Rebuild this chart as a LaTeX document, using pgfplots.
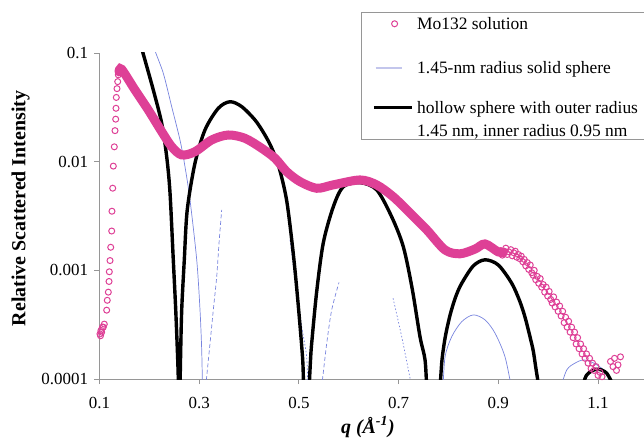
\documentclass[border=0pt]{standalone}
\usepackage{fontspec}
\setmainfont{Liberation Serif}
\usepackage{pgfplots}
\pgfplotsset{compat=1.18}

\definecolor{mopink}{RGB}{222,64,150}
\definecolor{sphblue}{RGB}{120,132,222}
\definecolor{sphlight}{RGB}{195,198,236}
\definecolor{axgray}{RGB}{150,150,150}

\begin{document}
\begin{tikzpicture}
\path[use as bounding box] (0,0) rectangle (644bp,441bp);
\begin{axis}[
    at={(99.5bp,62bp)}, anchor=south west,
    scale only axis, width=544.5bp, height=326bp,
    xmin=0.1, xmax=1.1922, ymin=1e-4, ymax=0.1,
    ymode=log,
    axis x line*=bottom, axis y line*=left,
    axis line style={axgray, line width=0.9bp, -},
    tick style={axgray, line width=0.9bp},
    tick align=outside, major tick length=5bp,
    yminorticks=false,
    xtick={0.1,0.3,0.5,0.7,0.9,1.1},
    xticklabels={0.1,0.3,0.5,0.7,0.9,1.1},
    ytick={1e-4,1e-3,1e-2,1e-1},
    yticklabels={0.0001,0.001,0.01,0.1},
    /pgf/number format/assume math mode=true,
    tick label style={font=\fontsize{17}{20}\selectfont},
    xticklabel style={yshift=-10bp},
    yticklabel style={xshift=-3bp},
    xlabel={\bfseries\itshape q (Å\textsuperscript{-1})},
    ylabel={\bfseries Relative Scattered Intensity},
    every axis x label/.style={at={(axis description cs:0.493,-0.147)}, anchor=center,
        font=\fontsize{20}{23}\selectfont},
    every axis y label/.style={at={(axis description cs:-0.145,0.523)}, anchor=center, rotate=90,
        font=\fontsize{20}{23}\selectfont},
    legend cell align=left,
    legend style={at={(0.48,1.126)}, anchor=north west,
        draw=axgray, line width=0.9bp, fill=white,
        inner xsep=11bp, inner ysep=2bp, row sep=0bp,
        font=\fontsize{17.5}{21}\selectfont,
        cells={anchor=base west},
        /tikz/row 1/.style={nodes={inner sep=0bp, text height=15bp, text depth=30.3bp}},
        /tikz/row 2/.style={nodes={inner sep=0bp, text height=14bp, text depth=25.7bp}},
        /tikz/row 3/.style={nodes={inner sep=0bp, text height=14bp, text depth=8.7bp}},
        /tikz/row 4/.style={nodes={inner sep=0bp, text height=14bp, text depth=1.5bp}},
        /tikz/every odd column/.style={column sep=4bp}},
]

% legend
\addlegendimage{legend image code/.code={\draw[mopink,line width=1bp] (20.7bp,5.6bp) circle (3bp);}}
\addlegendentry{Mo132 solution}
\addlegendimage{legend image code/.code={\draw[sphlight,line width=1.3bp] (1.7bp,5.6bp)--(28.3bp,5.6bp);}}
\addlegendentry{1.45-nm radius solid sphere}
\addlegendimage{legend image code/.code={\draw[black,line width=3.2bp] (0bp,5.6bp)--(37.7bp,5.6bp);}}
\addlegendentry{hollow sphere with outer radius\hspace*{60bp}}
\addlegendimage{empty legend}
\addlegendentry{1.45 nm, inner radius 0.95 nm}

% 1.45-nm solid sphere (only the visible pieces)
\addplot[sphblue, line width=0.7bp, smooth, forget plot] coordinates {
(0.2050,0.150) (0.2099,0.110) (0.2280,0.065) (0.2448,0.0321) (0.2615,0.0158)
(0.2715,0.0090) (0.2815,0.00445) (0.2950,0.00125) (0.3016,0.000433)
(0.3050,0.000185) (0.3066,0.00008)};
\addplot[sphblue, line width=0.7bp, smooth, dash pattern=on 4bp off 2.5bp, forget plot] coordinates {
(0.3130,0.000085) (0.3217,0.000213) (0.3283,0.000433) (0.3351,0.000875)
(0.3397,0.00177) (0.3451,0.0036)};
\addplot[sphblue, line width=0.7bp, smooth, dash pattern=on 1.5bp off 2bp, forget plot] coordinates {
(0.4822,0.0019) (0.4956,0.000615) (0.5056,0.000303) (0.5156,0.00016) (0.5177,0.00008)};
\addplot[sphblue, line width=0.7bp, smooth, dash pattern=on 4bp off 2.5bp, forget plot] coordinates {
(0.5457,0.000085) (0.5558,0.000213) (0.5658,0.000433) (0.5804,0.000774)};
\addplot[sphblue, line width=0.7bp, smooth, dash pattern=on 1.5bp off 2bp, forget plot] coordinates {
(0.6888,0.000553) (0.7062,0.000245) (0.7263,0.000085)};
\addplot[sphblue, line width=0.7bp, smooth, forget plot] coordinates {
(0.7890,0.00008) (0.7931,0.00016) (0.8065,0.000245) (0.8266,0.000337)
(0.8499,0.000389) (0.8733,0.00035) (0.8934,0.000264) (0.9134,0.00016) (0.9269,0.00008)};
\addplot[sphblue, line width=0.7bp, smooth, forget plot] coordinates {
(1.0237,0.00008) (1.0372,0.000121) (1.0538,0.00014) (1.0719,0.00015)
(1.0940,0.000138) (1.1174,0.000113) (1.1260,0.00008)};

% hollow sphere, outer 1.45 nm, inner 0.95 nm
\addplot[black, line width=3.4bp, smooth, forget plot] coordinates {
(0.1750,0.160) (0.1847,0.110) (0.2079,0.0457) (0.2248,0.02255) (0.2348,0.0111)
(0.2414,0.0052) (0.2480,0.00125) (0.2529,0.000433) (0.2569,0.00015) (0.2587,0.00008)};
\addplot[black, line width=3.4bp, smooth, forget plot] coordinates {
(0.2615,0.00008) (0.2625,0.00015) (0.2649,0.000433) (0.2701,0.00125) (0.2760,0.0036)
(0.2916,0.00973) (0.3116,0.0196) (0.3383,0.0310) (0.3618,0.0356) (0.3853,0.0321)
(0.4119,0.0242) (0.4300,0.0182) (0.4450,0.0135) (0.4600,0.0089) (0.4755,0.00437)
(0.4888,0.00141) (0.4988,0.00047) (0.5076,0.00015) (0.5092,0.00008)};
\addplot[black, line width=3.4bp, smooth, forget plot] coordinates {
(0.5203,0.00008) (0.5233,0.00015) (0.5257,0.000215) (0.5357,0.00064) (0.5489,0.00179)
(0.5690,0.00385) (0.5891,0.00589) (0.6226,0.00641) (0.6561,0.0055) (0.6862,0.00310)
(0.7094,0.00165) (0.7269,0.00069) (0.7429,0.000245) (0.7530,0.00015) (0.7564,0.00008)};
\addplot[black, line width=3.4bp, smooth, forget plot] coordinates {
(0.7830,0.00008) (0.7870,0.00015) (0.7940,0.00025) (0.8040,0.00040) (0.8150,0.00058)
(0.8266,0.00076) (0.8499,0.00110) (0.8733,0.00125) (0.9000,0.00112) (0.9269,0.00076)
(0.9430,0.00052) (0.9536,0.00037) (0.9640,0.00024) (0.9702,0.00018) (0.9760,0.00012)
(0.9822,0.00008)};
\addplot[black, line width=3.4bp, smooth, forget plot] coordinates {
(1.0673,0.00008) (1.0773,0.000109) (1.0974,0.000123) (1.1174,0.000113) (1.1340,0.00008)};

% Mo132 solution: dense part of the data (circles overlap into a band)
\addplot[mopink, line width=9bp, smooth, line cap=round, forget plot] coordinates {
(0.1391,0.0670) (0.1445,0.0708) (0.1712,0.0457) (0.1979,0.0299) (0.2248,0.0189)
(0.2448,0.01374) (0.2649,0.01153) (0.2916,0.01236) (0.3251,0.01585) (0.3584,0.0176)
(0.3919,0.0164) (0.4254,0.01328) (0.4521,0.01074) (0.4755,0.00809) (0.5022,0.00655)
(0.5357,0.00569) (0.5684,0.00611) (0.6226,0.00679) (0.6561,0.00611) (0.6888,0.00477)
(0.7229,0.00337) (0.7564,0.00236) (0.7931,0.00154) (0.8232,0.00142) (0.8533,0.00157)
(0.8733,0.00175) (0.8994,0.00148) (0.9100,0.00146)};

% Mo132 solution: individual points
\addplot[only marks, mark=o, mark size=3bp, mopink, mark options={line width=1bp}, forget plot] coordinates {
(0.1010,0.00026) (0.1020,0.00025) (0.1030,0.00028) (0.1044,0.00027) (0.1060,0.00030)
(0.1076,0.00030) (0.1096,0.00032) (0.1144,0.00043) (0.1156,0.00053) (0.1177,0.00063)
(0.1191,0.00079) (0.1197,0.00097) (0.1211,0.00123) (0.1225,0.00163) (0.1245,0.0023)
(0.1250,0.0035) (0.1265,0.0057) (0.1277,0.0091) (0.1297,0.0137) (0.1311,0.0193)
(0.1325,0.0246) (0.1331,0.031) (0.1337,0.039) (0.1351,0.047) (0.1365,0.0545)
(0.1377,0.063) (0.1391,0.067)
(0.905,0.00152) (0.908,0.00138) (0.912,0.00150) (0.915,0.00160) (0.918,0.00140)
(0.921,0.00148) (0.925,0.00155) (0.928,0.00136) (0.931,0.00145) (0.934,0.00150)
(0.937,0.00132) (0.940,0.00140) (0.943,0.00128) (0.946,0.00135) (0.949,0.00120)
(0.952,0.00126) (0.955,0.00110) (0.958,0.00118) (0.961,0.00102) (0.964,0.00112)
(0.967,0.00095) (0.970,0.00090) (0.972,0.00100) (0.975,0.00082) (0.978,0.00088)
(0.981,0.00076) (0.984,0.00084) (0.987,0.00070) (0.990,0.00074) (0.993,0.00063)
(0.996,0.00070) (0.999,0.00058) (1.002,0.00064) (1.005,0.00054) (1.008,0.00050)
(1.011,0.00057) (1.014,0.00046) (1.017,0.00051) (1.020,0.00042) (1.023,0.00047)
(1.026,0.00038) (1.029,0.00042) (1.032,0.00033) (1.035,0.00037) (1.038,0.00030)
(1.041,0.00034) (1.044,0.00027) (1.047,0.00030) (1.050,0.00024) (1.053,0.00027)
(1.056,0.00021) (1.059,0.00024) (1.062,0.00019) (1.065,0.00021) (1.068,0.00017)
(1.071,0.00019) (1.074,0.000155) (1.077,0.00017) (1.080,0.00014) (1.083,0.000155)
(1.086,0.000125) (1.089,0.00014) (1.092,0.00012) (1.096,0.00013) (1.100,0.000108)
(1.104,0.000115) (1.108,0.000105) (1.125,0.000145) (1.130,0.00013) (1.133,0.000155)
(1.137,0.00012) (1.140,0.000135) (1.145,0.00016)};

\end{axis}
\end{tikzpicture}
\end{document}
